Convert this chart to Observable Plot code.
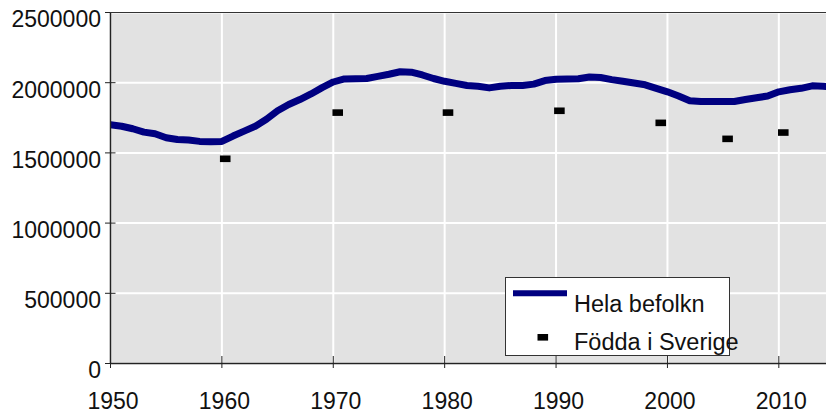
<!DOCTYPE html>
<html><head><meta charset="utf-8">
<script src="https://cdn.jsdelivr.net/npm/d3@7"></script>
<script src="https://cdn.jsdelivr.net/npm/@observablehq/plot@0.6"></script>
<style>
body{margin:0;background:#fff;font-family:"Liberation Sans",Arial,sans-serif;}
#wrap{position:relative;width:826px;height:415px;overflow:hidden;}
#legend{position:absolute;left:0;top:0;pointer-events:none;}
</style></head><body><div id="wrap"></div>
<script>
const years = [1950,1951,1952,1953,1954,1955,1956,1957,1958,1959,1960,1961,1962,1963,1964,1965,1966,1967,1968,1969,1970,1971,1972,1973,1974,1975,1976,1977,1978,1979,1980,1981,1982,1983,1984,1985,1986,1987,1988,1989,1990,1991,1992,1993,1994,1995,1996,1997,1998,1999,2000,2001,2002,2003,2004,2005,2006,2007,2008,2009,2010,2011,2012,2013,2014,2015];
const helaBefolkn = [1700000,1690000,1672000,1648000,1636000,1608000,1595000,1592000,1582000,1580000,1582000,1620000,1655000,1690000,1740000,1800000,1845000,1880000,1920000,1965000,2005000,2027000,2028000,2030000,2045000,2060000,2078000,2075000,2055000,2030000,2010000,1995000,1980000,1975000,1963000,1975000,1980000,1980000,1990000,2015000,2025000,2027000,2028000,2040000,2037000,2022000,2010000,1998000,1985000,1960000,1935000,1905000,1872000,1866000,1866000,1866000,1866000,1880000,1893000,1905000,1935000,1950000,1960000,1978000,1975000,1965000];
const foddaYears = [1960.3,1970.4,1980.3,1990.3,1999.4,2005.4,2010.4];
const foddaISverige = [1458000,1787000,1787000,1800000,1714000,1600000,1645000];
const xTicks = [1950,1960,1970,1980,1990,2000,2010];
const yTicks = [0,500000,1000000,1500000,2000000,2500000];
const seriesNames = ["Hela befolkn","Födda i Sverige"];

const lineData = years.map((y,i)=>({year:y, value:helaBefolkn[i]}));
const pointData = foddaYears.map((y,i)=>({year:y, value:foddaISverige[i]}));

const rectSymbol = {draw(ctx){ ctx.rect(-5.3,-3.3,10.6,6.6); }};
const font = "Liberation Sans, Arial, sans-serif";

const chart = Plot.plot({
  width: 826, height: 415,
  marginLeft: 110, marginRight: 0, marginTop: 12, marginBottom: 52,
  style: {fontFamily: font, fontSize: "23px", color: "#111", background: "transparent"},
  x: {domain: [1950, 2014.28], label: null},
  y: {domain: [0, 2500000], label: null},
  marks: [
    Plot.frame({fill: "#e2e2e2", stroke: null}),
    Plot.gridX({ticks: xTicks, stroke: "#fff", strokeOpacity: 1, strokeWidth: 2}),
    Plot.gridY({ticks: yTicks, stroke: "#fff", strokeOpacity: 1, strokeWidth: 2}),
    Plot.line(lineData, {x: "year", y: "value", stroke: "#000080", strokeWidth: 7, strokeLinejoin: "round", clip: true}),
    Plot.dot(pointData, {x: "year", y: "value", symbol: rectSymbol, fill: "#000", stroke: null}),
    Plot.axisY({ticks: yTicks, tickSize: 10.5, dx: 5.5, tickFormat: () => "", stroke: "#222", label: null}),
    Plot.axisX({ticks: xTicks, tickSize: 12, dy: -7, tickFormat: () => "", stroke: "#222", label: null}),
    Plot.ruleX([1950], {stroke: "#222", strokeWidth: 1.5}),
    Plot.ruleY([0], {stroke: "#222", strokeWidth: 1.5}),
    Plot.ruleY([2500000], {stroke: "#333", strokeWidth: 1.2}),
    Plot.text(yTicks, {y: d => d, text: d => String(d), frameAnchor: "left", textAnchor: "end", lineAnchor: "middle", dx: -9.5, dy: 7.5, fontSize: 23, fill: "#111"}),
    Plot.text(xTicks, {x: d => d, text: d => String(d), frameAnchor: "bottom", lineAnchor: "middle", dy: 38, dx: 2.5, fontSize: 23, fill: "#111"})
  ]
});
const wrap = document.getElementById("wrap");
wrap.appendChild(chart);

// legend overlay
const lg = d3.select(wrap).append("svg").attr("id","legend").attr("width",826).attr("height",415);
lg.append("rect").attr("x",505.5).attr("y",277.5).attr("width",224).attr("height",78).attr("fill","#fff").attr("stroke","#333").attr("stroke-width",1);
lg.append("line").attr("x1",513).attr("x2",567).attr("y1",293.3).attr("y2",293.3).attr("stroke","#000080").attr("stroke-width",6);
lg.append("rect").attr("x",537.5).attr("y",334).attr("width",10.6).attr("height",6.6).attr("fill","#000");
lg.append("text").attr("x",574).attr("y",311.7).attr("font-family",font).attr("font-size",23.5).attr("fill","#111").text(seriesNames[0]);
lg.append("text").attr("x",574).attr("y",350).attr("font-family",font).attr("font-size",23.5).attr("fill","#111").text(seriesNames[1]);
</script></body></html>
